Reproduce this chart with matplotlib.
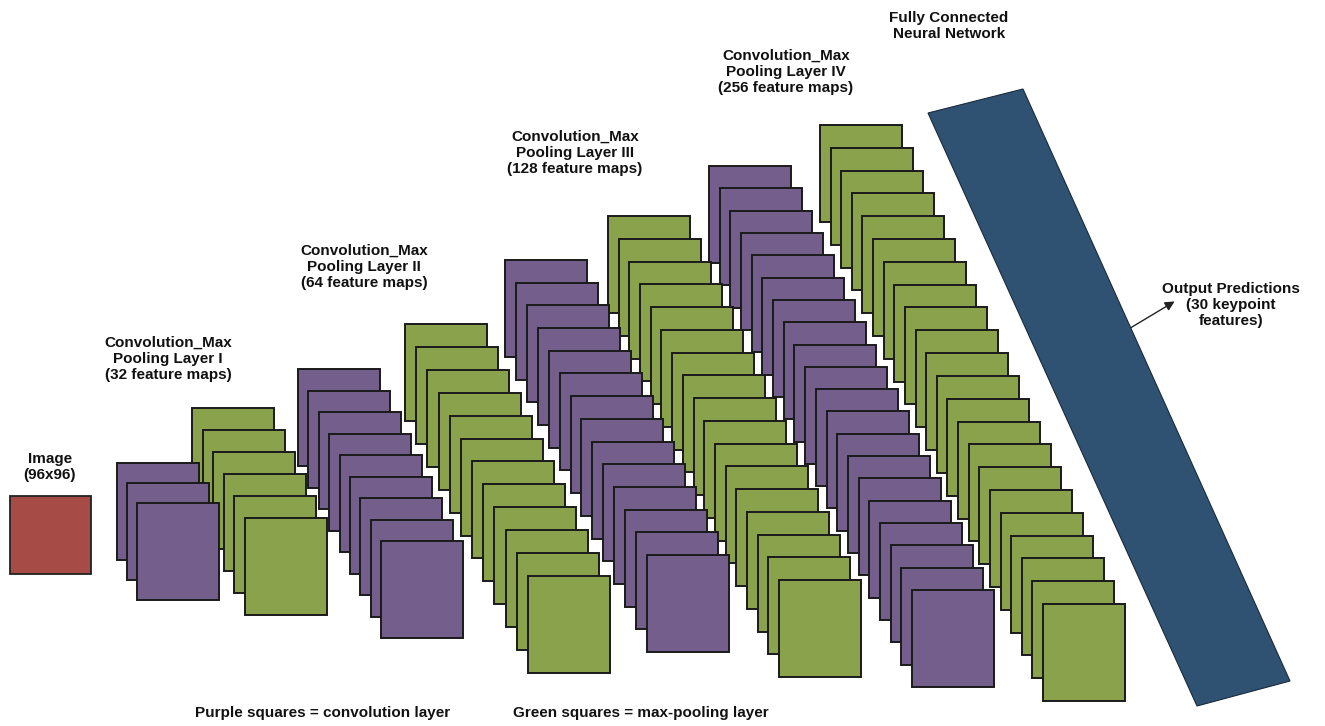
import matplotlib.pyplot as plt
import numpy as np
from matplotlib.patches import Rectangle, Polygon

# feature-map stacks, left to right
stack_counts = [3, 6, 9, 12, 14, 17, 20, 22]
stack_kinds = ['conv', 'pool', 'conv', 'pool', 'conv', 'pool', 'conv', 'pool']
layer_titles = [
    'Convolution_Max\nPooling Layer I\n(32 feature maps)',
    'Convolution_Max\nPooling Layer II\n(64 feature maps)',
    'Convolution_Max\nPooling Layer III\n(128 feature maps)',
    'Convolution_Max\nPooling Layer IV\n(256 feature maps)',
]
image_label = 'Image\n(96x96)'
fc_label = 'Fully Connected\nNeural Network'
out_label = 'Output Predictions\n(30 keypoint\nfeatures)'
legend_texts = ['Purple squares = convolution layer', 'Green squares = max-pooling layer']

colors = {'conv': '#735e8c', 'pool': '#89a24b', 'img': '#a64b45', 'fc': '#2f5273'}

# layout (pixels, top-left of first and last square in each stack)
first_xy = [(117, 463), (192, 408), (298, 369), (405, 324),
            (505, 260), (608, 216), (709, 166), (820, 125)]
last_xy = [(137, 503), (245, 518), (381, 541), (528, 576),
           (647, 555), (779, 580), (912, 590), (1043, 604)]
sq_w, sq_h = 82, 97
title_pos = [(168, 336), (364, 244), (575, 130), (786, 49)]

W, H = 1325, 726
fig = plt.figure(figsize=(W / 100, H / 100), dpi=100)
ax = fig.add_axes([0, 0, 1, 1])
ax.set_xlim(0, W)
ax.set_ylim(H, 0)
ax.axis('off')

font = dict(family=['Liberation Sans', 'DejaVu Sans'], weight='bold', fontsize=11, color='#111111')
ls = 1.2

# input image
ax.add_patch(Rectangle((10, 496), 81, 78, facecolor=colors['img'], edgecolor='#222222', lw=1.3))
ax.text(50, 452, image_label, ha='center', va='top', linespacing=ls, **font)

nstack = len(stack_counts)
for s in range(nstack):
    n = stack_counts[s]
    xs = np.linspace(first_xy[s][0], last_xy[s][0], n)
    ys = np.linspace(first_xy[s][1], last_xy[s][1], n)
    z = 10 + (nstack - s) * 50
    for i in range(n):
        ax.add_patch(Rectangle((xs[i], ys[i]), sq_w, sq_h, facecolor=colors[stack_kinds[s]],
                               edgecolor='#1a1a1a', lw=1.4, zorder=z + i))

for t, (x, y) in zip(layer_titles, title_pos):
    ax.text(x, y, t, ha='center', va='top', linespacing=ls, **font)

# fully connected block
fc = Polygon([(928, 113), (1023, 89), (1290, 681), (1197, 706)], closed=True,
             facecolor=colors['fc'], edgecolor='#1a2a3a', lw=0.8, zorder=5)
ax.add_patch(fc)
ax.text(949, 11, fc_label, ha='center', va='top', linespacing=ls, **font)

ax.annotate('', xy=(1177, 300), xytext=(1127, 330),
            arrowprops=dict(arrowstyle='-|>', color='#222222', lw=1.0, mutation_scale=14))
ax.text(1231, 282, out_label, ha='center', va='top', linespacing=ls, **font)

ax.text(195, 713, legend_texts[0], ha='left', va='center', **font)
ax.text(513, 713, legend_texts[1], ha='left', va='center', **font)

fig.savefig('out.png', dpi=100, facecolor='white')
